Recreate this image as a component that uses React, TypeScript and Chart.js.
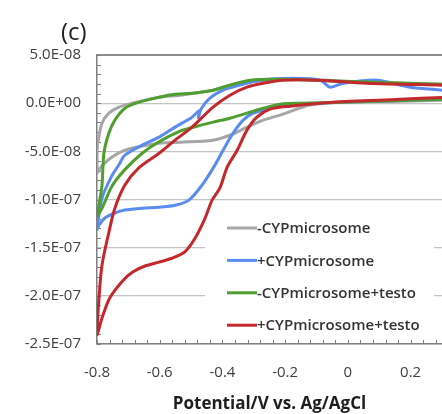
import React, { useEffect, useRef } from 'react';
import { Chart, registerables } from 'chart.js';

Chart.register(...registerables);

// ---- data -------------------------------------------------------------
const seriesLabels = ['-CYPmicrosome', '+CYPmicrosome', '-CYPmicrosome+testo', '+CYPmicrosome+testo'];
const seriesColors = ['#a6a6a6', '#5a8cf0', '#4f9f30', '#c3282d'];
const drawOrder = [3, 2, 1, 0];

// each loop: lower branch from +0.3 V to -0.8 V, then upper branch back to +0.3 V
const grayX = [0.3, 0.167, -0.015, -0.121, -0.216, -0.27, -0.322, -0.376, -0.43, -0.535, -0.602, -0.656, -0.711, -0.752, -0.784, -0.8,
  -0.8, -0.794, -0.784, -0.762, -0.73, -0.688, -0.602, -0.535, -0.43, -0.376, -0.322, -0.216, -0.121, -0.015, 0.167, 0.3];
const grayY = [0.3e-8, 0.2e-8, 0.1e-8, -0.2e-8, -1.24e-8, -1.76e-8, -2.49e-8, -3.32e-8, -3.84e-8, -4.05e-8, -4.15e-8, -4.46e-8, -4.88e-8, -5.6e-8, -6.5e-8, -7.2e-8,
  -4.9e-8, -3.5e-8, -2.07e-8, -1.04e-8, -0.41e-8, 0, 0.62e-8, 0.83e-8, 1.35e-8, 1.87e-8, 2.18e-8, 2.49e-8, 2.49e-8, 2.28e-8, 2.07e-8, 1.97e-8];

const blueX = [0.3, -0.025, -0.152, -0.216, -0.248, -0.302, -0.334, -0.366, -0.398, -0.424, -0.465, -0.507, -0.551, -0.602, -0.656, -0.711, -0.743, -0.774, -0.794, -0.8,
  -0.784, -0.752, -0.73, -0.711, -0.656, -0.602, -0.551, -0.497, -0.474, -0.477, -0.468, -0.44, -0.398, -0.344, -0.28, -0.175, -0.089, -0.057, -0.015, 0.093, 0.198, 0.3];
const blueY = [0.4e-8, 0.1e-8, -0.1e-8, -0.2e-8, -0.52e-8, -1.04e-8, -1.76e-8, -3.11e-8, -4.88e-8, -6.43e-8, -8.5e-8, -10.06e-8, -10.6e-8, -10.8e-8, -10.9e-8, -11.1e-8, -11.4e-8, -11.9e-8, -12.7e-8, -13.1e-8,
  -9.85e-8, -7.5e-8, -6.4e-8, -5.4e-8, -4.36e-8, -3.53e-8, -2.49e-8, -1.45e-8, -0.8e-8, -1.5e-8, -0.6e-8, 0.52e-8, 1.35e-8, 1.87e-8, 2.39e-8, 2.59e-8, 2.39e-8, 1.66e-8, 2.07e-8, 2.39e-8, 1.66e-8, 1.35e-8];

const greenX = [0.3, -0.025, -0.152, -0.216, -0.27, -0.322, -0.376, -0.43, -0.481, -0.535, -0.602, -0.656, -0.711, -0.752, -0.784, -0.8,
  -0.794, -0.784, -0.778, -0.762, -0.743, -0.711, -0.666, -0.602, -0.551, -0.497, -0.43, -0.376, -0.312, -0.216, -0.015, 0.3];
const greenY = [0.4e-8, 0.1e-8, 0, -0.1e-8, -0.52e-8, -1.04e-8, -1.56e-8, -1.97e-8, -2.39e-8, -2.9e-8, -4.0e-8, -5.2e-8, -6.9e-8, -8.6e-8, -10.9e-8, -11.7e-8,
  -10.6e-8, -8.5e-8, -5.2e-8, -3.1e-8, -1.76e-8, -0.52e-8, 0.1e-8, 0.62e-8, 0.93e-8, 1.04e-8, 1.35e-8, 1.87e-8, 2.39e-8, 2.49e-8, 2.28e-8, 1.97e-8];

const redX = [0.3, 0.167, -0.047, -0.184, -0.248, -0.29, -0.322, -0.353, -0.385, -0.408, -0.433, -0.455, -0.487, -0.519, -0.561, -0.602, -0.647, -0.685, -0.717, -0.759, -0.784, -0.8,
  -0.794, -0.784, -0.762, -0.743, -0.711, -0.666, -0.602, -0.551, -0.497, -0.43, -0.376, -0.322, -0.27, -0.207, -0.098, 0.061, 0.3];
const redY = [0.6e-8, 0.4e-8, 0.1e-8, -0.31e-8, -0.62e-8, -1.45e-8, -2.8e-8, -4.88e-8, -6.64e-8, -8.8e-8, -10.06e-8, -11.9e-8, -14.0e-8, -15.4e-8, -16.1e-8, -16.5e-8, -16.9e-8, -17.5e-8, -18.4e-8, -20.2e-8, -22.3e-8, -24.0e-8,
  -20.4e-8, -16.8e-8, -13.4e-8, -10.9e-8, -8.5e-8, -6.7e-8, -5.2e-8, -3.84e-8, -2.49e-8, -0.41e-8, 0.83e-8, 1.66e-8, 2.07e-8, 2.39e-8, 2.39e-8, 2.07e-8, 1.87e-8];

const seriesX = [grayX, blueX, greenX, redX];
const seriesY = [grayY, blueY, greenY, redY];

const X_MIN = -0.8, X_MAX = 0.3, X_STEP = 0.2, X_MINOR = 0.04;
const Y_MIN = -2.5e-7, Y_MAX = 5e-8, Y_STEP = 5e-8, Y_MINOR = 1e-8;
const xTitle = 'Potential/V vs. Ag/AgCl';
const panelLabel = '(c)';

// ---- helpers -------------------------------------------------------------
function sci(v: number): string {
  if (Math.abs(v) < 1e-15) return '0.0E+00';
  const [m, e] = v.toExponential(1).split('e');
  const n = parseInt(e, 10);
  return `${m}E${n < 0 ? '-' : '+'}${String(Math.abs(n)).padStart(2, '0')}`;
}

const FONT = "'Open Sans', sans-serif";

const decor = {
  id: 'decor',
  beforeDatasetsDraw(chart: any) {
    const { ctx } = chart;
    const x = chart.scales.x;
    const y = chart.scales.y;
    ctx.save();
    // minor tick marks (inside)
    ctx.strokeStyle = '#7f7f7f';
    ctx.lineWidth = 1;
    ctx.beginPath();
    const nx = Math.round((X_MAX - X_MIN) / X_MINOR);
    for (let k = 0; k <= nx; k++) {
      const px = Math.round(x.getPixelForValue(X_MIN + k * X_MINOR)) + 0.5;
      ctx.moveTo(px, y.bottom);
      ctx.lineTo(px, y.bottom - 4);
    }
    const ny = Math.round((Y_MAX - Y_MIN) / Y_MINOR);
    for (let k = 0; k <= ny; k++) {
      const py = Math.round(y.getPixelForValue(Y_MIN + k * Y_MINOR)) + 0.5;
      ctx.moveTo(x.left, py);
      ctx.lineTo(x.left + 4, py);
    }
    ctx.stroke();

    // legend
    const boxL = 205, boxT = 208, boxR = 434, boxB = 340;
    ctx.fillStyle = '#ffffff';
    ctx.fillRect(boxL, boxT, boxR - boxL, boxB - boxT);
    const lx = 227, lw = 30, top = 228, gap = 32.4;
    ctx.font = `600 15px ${FONT}`;
    ctx.textBaseline = 'middle';
    ctx.textAlign = 'left';
    chart.data.datasets.forEach((ds: any, i: number) => {
      const cy = top + i * gap;
      ctx.strokeStyle = ds.borderColor;
      ctx.lineWidth = 3;
      ctx.beginPath();
      ctx.moveTo(lx, cy);
      ctx.lineTo(lx + lw, cy);
      ctx.stroke();
      ctx.fillStyle = '#333333';
      ctx.fillText(ds.label, lx + lw, cy + 1);
    });
    ctx.restore();
  },
  afterDraw(chart: any) {
    const { ctx } = chart;
    ctx.save();
    ctx.font = `24px ${FONT}`;
    ctx.fillStyle = '#222222';
    ctx.textBaseline = 'middle';
    ctx.textAlign = 'left';
    ctx.fillText(panelLabel, 61, 33);
    ctx.restore();
  },
};

export default function App() {
  const ref = useRef<HTMLCanvasElement | null>(null);

  useEffect(() => {
    if (!ref.current) return;
    const datasets = seriesLabels.map((label, i) => ({
      label,
      data: seriesX[i].map((xv, j) => ({ x: xv, y: seriesY[i][j] })),
      borderColor: seriesColors[i],
      backgroundColor: seriesColors[i],
      borderWidth: 3,
      showLine: true,
      pointRadius: 0,
      tension: 0.3,
      order: drawOrder[i],
    }));
    const chart = new Chart(ref.current, {
      type: 'scatter',
      data: { datasets },
      options: {
        animation: false,
        responsive: false,
        maintainAspectRatio: false,
        layout: { padding: { top: 55, left: 0, right: 0, bottom: 0 } },
        plugins: { legend: { display: false }, tooltip: { enabled: false } },
        scales: {
          x: {
            type: 'linear',
            min: X_MIN,
            max: X_MAX,
            afterFit: (s: any) => { s.height = 70; },
            ticks: {
              stepSize: X_STEP,
              includeBounds: false,
              padding: 20,
              color: '#404040',
              font: { family: FONT, size: 15 },
              callback: (v: any) => String(Number(Number(v).toFixed(1))),
            },
            grid: { drawOnChartArea: false, drawTicks: false },
            border: { color: '#7f7f7f', width: 1.5 },
            title: {
              display: true,
              text: xTitle,
              color: '#1e1e1e',
              font: { family: FONT, size: 17, weight: 'bold' },
              padding: { top: 0, bottom: 0 },
            },
          },
          y: {
            type: 'linear',
            min: Y_MIN,
            max: Y_MAX,
            afterFit: (s: any) => { s.width = 97; },
            ticks: {
              stepSize: Y_STEP,
              padding: 16,
              color: '#404040',
              font: { family: FONT, size: 15 },
              callback: (v: any) => sci(Number(v)),
            },
            grid: {
              drawTicks: false,
              color: (c: any) => (c.tick && Math.abs(c.tick.value - Y_MAX) < 1e-12 ? '#8c8c8c' : '#c4c4c4'),
              lineWidth: (c: any) => (c.tick && Math.abs(c.tick.value - Y_MAX) < 1e-12 ? 2 : 1.3),
            },
            border: { color: '#7f7f7f', width: 1.5 },
          },
        },
      } as any,
      plugins: [decor],
    });
    return () => chart.destroy();
  }, []);

  return (
    <div style={{ position: 'absolute', left: 0, top: 0, width: 442, height: 414, background: '#fff' }}>
      <canvas ref={ref} width={442} height={414} style={{ display: 'block' }} />
    </div>
  );
}
